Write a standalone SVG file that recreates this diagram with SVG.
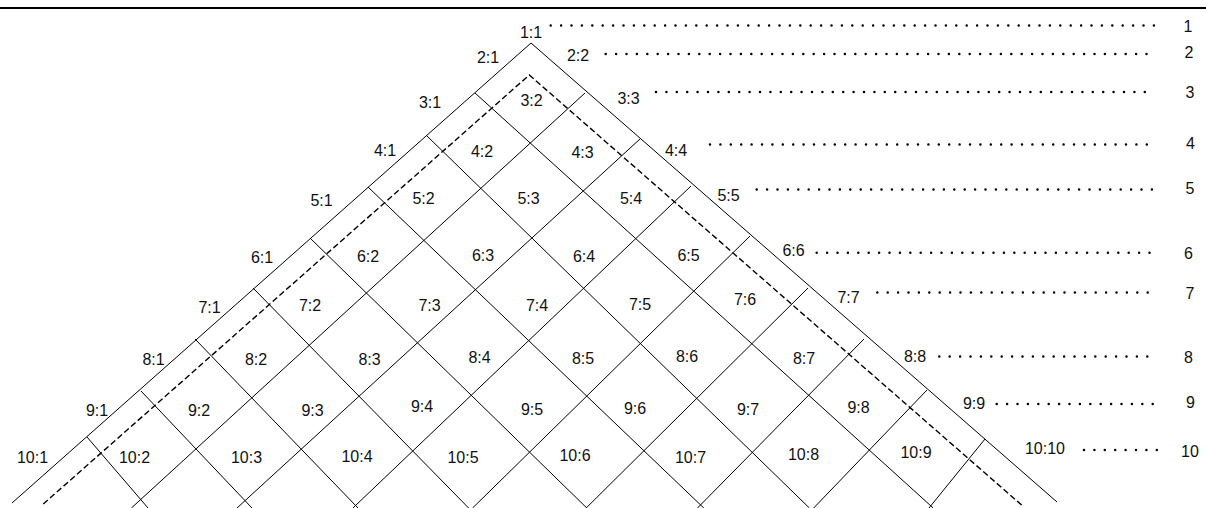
<svg xmlns="http://www.w3.org/2000/svg" width="1206" height="508" viewBox="0 0 1206 508">
<style>
  .g line { stroke: #000; stroke-width: 1; fill: none; }
  .dash { stroke: #000; stroke-width: 1.4; stroke-dasharray: 6 3; fill: none; }
  .dots line { stroke: #000; stroke-width: 2.5; stroke-linecap: round; stroke-dasharray: 0 10.4; }
  text { font-family: "Liberation Sans", Arial, sans-serif; font-size: 16px; fill: #111; text-anchor: middle; }
</style>
<rect width="1206" height="508" fill="#fff"/>
<line x1="0" y1="8" x2="1206" y2="8" stroke="#000" stroke-width="2"/>
<g id="connectors">
  <g class="g" id="grid">
    <line x1="531" y1="43" x2="12" y2="503"/>
    <line x1="531" y1="43" x2="1057" y2="502"/>
    <line x1="475" y1="93" x2="933.2" y2="508"/>
    <line x1="426.5" y1="135.5" x2="809.4" y2="508"/>
    <line x1="368" y1="187" x2="703.8" y2="508"/>
    <line x1="310" y1="238" x2="586.8" y2="508"/>
    <line x1="253" y1="288" x2="468.6" y2="508"/>
    <line x1="195" y1="339" x2="358" y2="508"/>
    <line x1="141" y1="391" x2="252" y2="508"/>
    <line x1="87" y1="437" x2="148" y2="508"/>
    <line x1="585" y1="93" x2="131.4" y2="508"/>
    <line x1="640" y1="139" x2="237" y2="508"/>
    <line x1="691" y1="186" x2="352.9" y2="508"/>
    <line x1="750" y1="236" x2="472.6" y2="508"/>
    <line x1="808" y1="288" x2="586.2" y2="508"/>
    <line x1="864" y1="339" x2="697.5" y2="508"/>
    <line x1="927" y1="390" x2="813.7" y2="508"/>
    <line x1="985" y1="439" x2="929" y2="508"/>
  </g>
  <polyline class="dash" points="43.3,504 529.3,75 1022.7,506"/>
  <g class="dots">
    <line x1="550.7" y1="25.5" x2="1162" y2="25.5"/>
    <line x1="605.7" y1="54" x2="1155" y2="54"/>
    <line x1="656" y1="92" x2="1153" y2="92"/>
    <line x1="710" y1="144.5" x2="1156" y2="144.5"/>
    <line x1="756.7" y1="189.5" x2="1162" y2="189.5"/>
    <line x1="816.7" y1="252.7" x2="1158" y2="252.7"/>
    <line x1="877.3" y1="292.5" x2="1158" y2="292.5"/>
    <line x1="939.3" y1="356.5" x2="1157" y2="356.5"/>
    <line x1="996.7" y1="404" x2="1163" y2="404"/>
    <line x1="1084" y1="450" x2="1167" y2="450"/>
  </g>
</g>
<g id="labels">
  <g id="r1"><text x="531" y="37.5">1:1</text></g>
  <g id="r2"><text x="488" y="62.5">2:1</text><text x="578" y="61">2:2</text></g>
  <g id="r3"><text x="430" y="107.5">3:1</text><text x="531.5" y="105.5">3:2</text><text x="628.5" y="103.5">3:3</text></g>
  <g id="r4"><text x="385" y="156">4:1</text><text x="482" y="156.5">4:2</text><text x="582.5" y="158">4:3</text><text x="676" y="156">4:4</text></g>
  <g id="r5"><text x="321.5" y="206">5:1</text><text x="423.5" y="204">5:2</text><text x="528.5" y="204">5:3</text><text x="631" y="204">5:4</text><text x="728.5" y="201">5:5</text></g>
  <g id="r6"><text x="262" y="263">6:1</text><text x="368" y="262">6:2</text><text x="483" y="261">6:3</text><text x="584" y="261.5">6:4</text><text x="688.5" y="261">6:5</text><text x="793.5" y="256">6:6</text></g>
  <g id="r7"><text x="209.5" y="312.5">7:1</text><text x="310" y="311">7:2</text><text x="429.5" y="311">7:3</text><text x="537" y="311">7:4</text><text x="640" y="310">7:5</text><text x="745" y="305">7:6</text><text x="848.5" y="303">7:7</text></g>
  <g id="r8"><text x="153.5" y="365">8:1</text><text x="256" y="365">8:2</text><text x="369.5" y="365">8:3</text><text x="479.5" y="362.5">8:4</text><text x="583" y="363.5">8:5</text><text x="687" y="362">8:6</text><text x="804" y="364">8:7</text><text x="915" y="362">8:8</text></g>
  <g id="r9"><text x="97" y="416">9:1</text><text x="199" y="416">9:2</text><text x="312.5" y="416">9:3</text><text x="422" y="412">9:4</text><text x="532" y="415">9:5</text><text x="635" y="414">9:6</text><text x="748" y="415">9:7</text><text x="858.5" y="412.5">9:8</text><text x="974" y="409">9:9</text></g>
  <g id="r10"><text x="32.5" y="463">10:1</text><text x="134.5" y="463">10:2</text><text x="246.5" y="463">10:3</text><text x="357" y="461.5">10:4</text><text x="463" y="463">10:5</text><text x="575" y="461">10:6</text><text x="690.5" y="462.5">10:7</text><text x="803.5" y="460">10:8</text><text x="916" y="457.5">10:9</text><text x="1045" y="454">10:10</text></g>
  <g id="rownums"><text x="1188" y="32">1</text><text x="1189" y="57.5">2</text><text x="1190" y="97.5">3</text><text x="1190.5" y="149">4</text><text x="1190" y="194">5</text><text x="1188.5" y="259">6</text><text x="1190" y="298.5">7</text><text x="1188.5" y="362.5">8</text><text x="1190.5" y="408">9</text><text x="1190" y="457">10</text></g>
</g>
</svg>
